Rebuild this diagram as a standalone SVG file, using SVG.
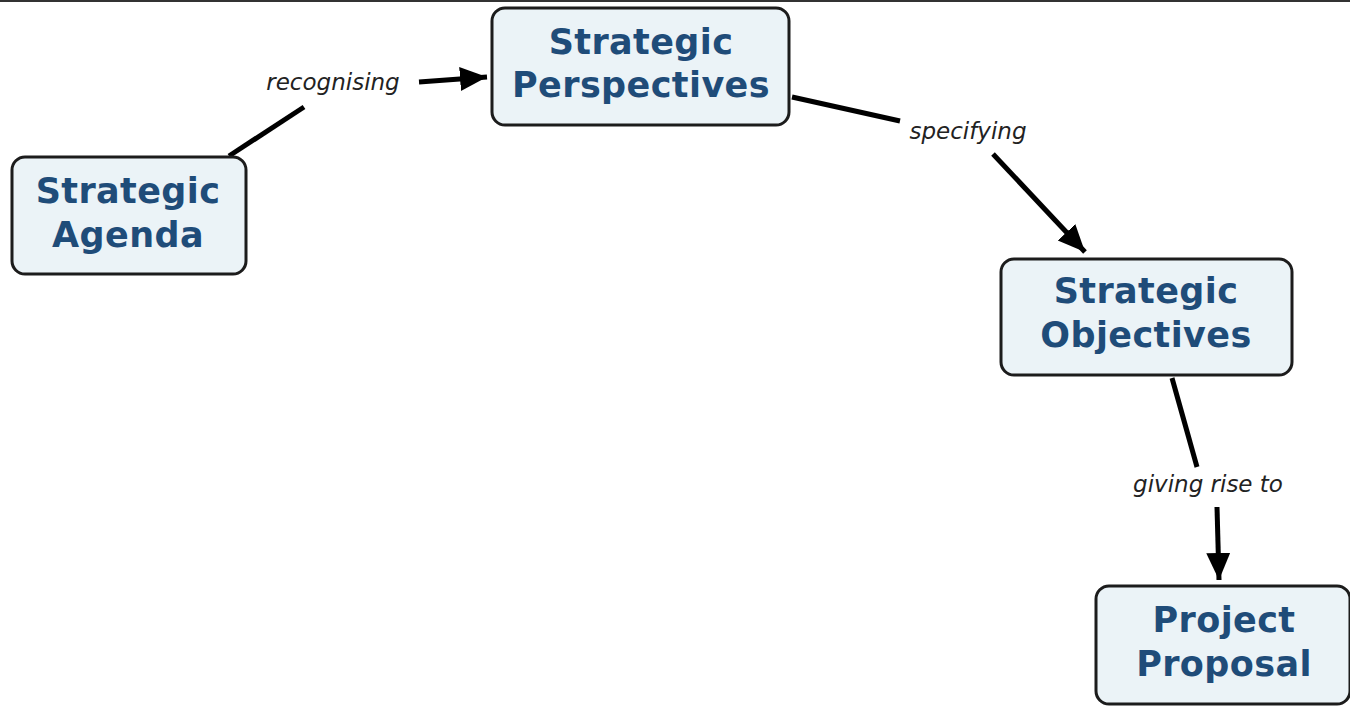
<svg xmlns="http://www.w3.org/2000/svg" width="1350" height="707" viewBox="0 0 1350 707">
  <style>
    .node rect { fill: #ebf3f7; stroke: #1c1c1c; stroke-width: 3; }
    .node text { font-family: "DejaVu Sans", Verdana, sans-serif; font-weight: bold; font-size: 35px; letter-spacing: 0.4px; fill: #1f4c79; text-anchor: middle; }
    .link { stroke: #000; stroke-width: 5; fill: none; }
    .label { font-family: "DejaVu Sans", Verdana, sans-serif; font-style: italic; font-size: 23px; fill: #222; text-anchor: middle; }
  </style>
  <defs>
    <marker id="head" markerUnits="userSpaceOnUse" markerWidth="30" markerHeight="26" refX="27" refY="12" orient="auto">
      <path d="M0,0 L27,12 L0,24 Z" fill="#000"/>
    </marker>
  </defs>

  <rect x="0" y="0" width="1350" height="707" fill="#fff"/>
  <rect x="0" y="0" width="1350" height="2" fill="#333"/>

  <!-- connectors and their linking phrases -->
  <g id="connectors">
    <line class="link" x1="229" y1="156" x2="304" y2="107"/>
    <text class="label" x="333" y="90">recognising</text>
    <line class="link" x1="419" y1="82" x2="487" y2="77" marker-end="url(#head)"/>

    <line class="link" x1="792" y1="97" x2="900" y2="121"/>
    <text class="label" x="968" y="139">specifying</text>
    <line class="link" x1="993" y1="154" x2="1085" y2="252" marker-end="url(#head)"/>

    <line class="link" x1="1172" y1="378" x2="1197" y2="467"/>
    <text class="label" x="1208" y="492">giving rise to</text>
    <line class="link" x1="1217" y1="507" x2="1219" y2="580" marker-end="url(#head)"/>
  </g>

  <g id="strategic-agenda" class="node">
    <rect x="12" y="157" width="234" height="117" rx="13"/>
    <text x="128" y="203">Strategic</text>
    <text x="128" y="247">Agenda</text>
  </g>

  <g id="strategic-perspectives" class="node">
    <rect x="492" y="8" width="297" height="117" rx="13"/>
    <text x="641" y="54">Strategic</text>
    <text x="641" y="97">Perspectives</text>
  </g>

  <g id="strategic-objectives" class="node">
    <rect x="1001" y="259" width="291" height="116" rx="13"/>
    <text x="1146" y="303">Strategic</text>
    <text x="1146" y="347">Objectives</text>
  </g>

  <g id="project-proposal" class="node">
    <rect x="1096" y="586" width="254" height="118" rx="13"/>
    <text x="1224" y="632">Project</text>
    <text x="1224" y="676">Proposal</text>
  </g>
</svg>
